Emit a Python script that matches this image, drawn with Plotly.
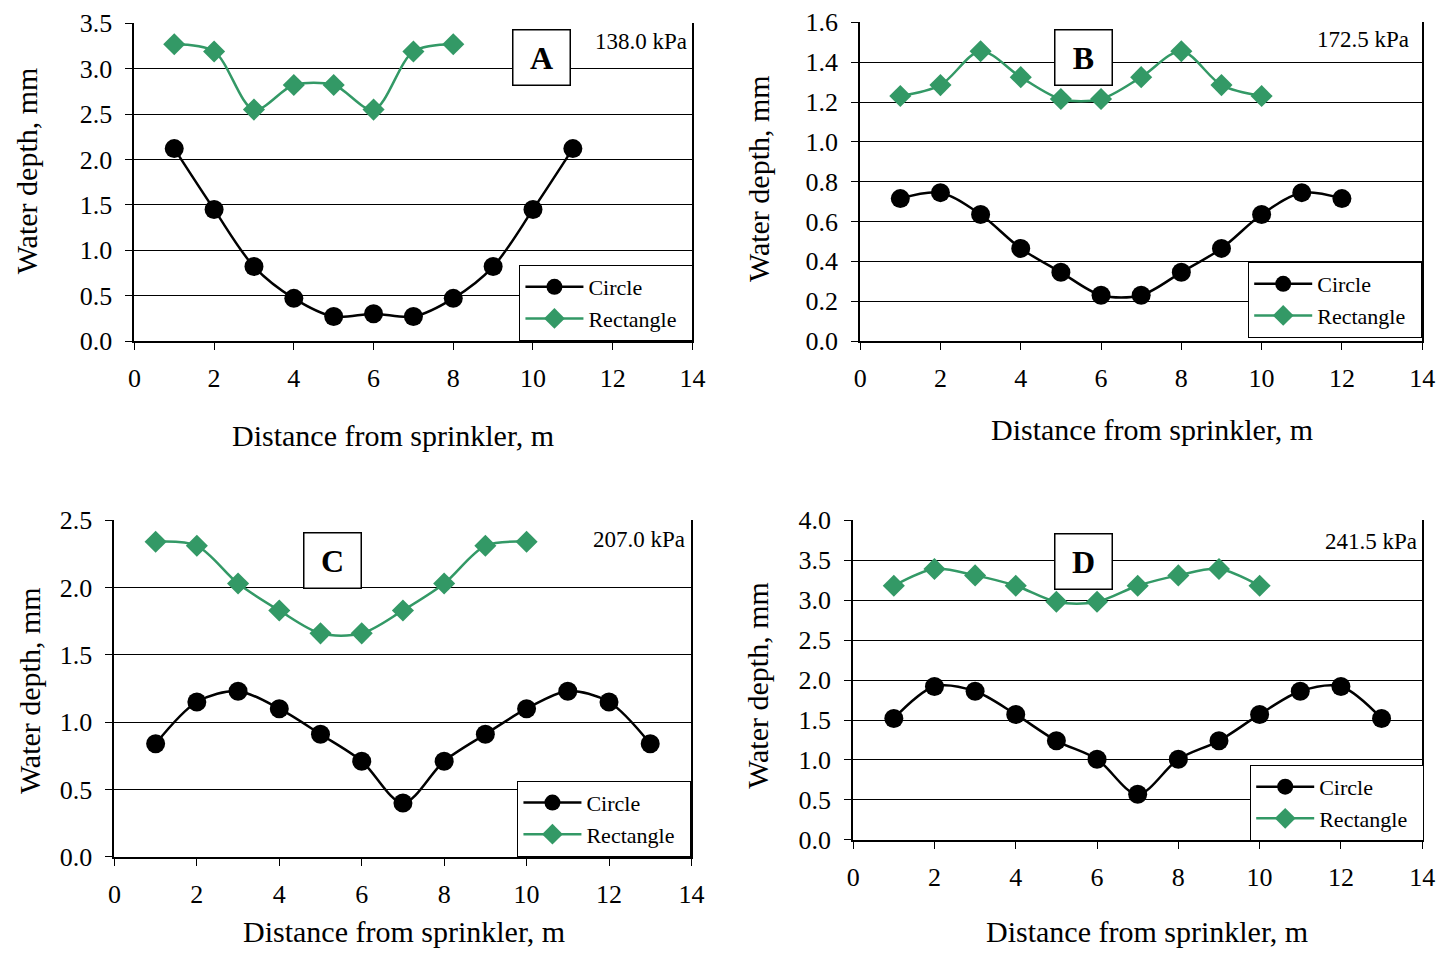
import plotly.graph_objects as go

W, H = 1442, 953

# ---------------- data ----------------
x_circle_A = [1, 2, 3, 4, 5, 6, 7, 8, 9, 10, 11]
circle_A = [2.12, 1.45, 0.82, 0.47, 0.27, 0.30, 0.27, 0.47, 0.82, 1.45, 2.12]
x_rect_A = [1, 2, 3, 4, 5, 6, 7, 8]
rect_A = [3.27, 3.19, 2.55, 2.82, 2.82, 2.55, 3.19, 3.27]

x_circle_B = [1, 2, 3, 4, 5, 6, 7, 8, 9, 10, 11, 12]
circle_B = [0.715, 0.745, 0.635, 0.465, 0.345, 0.23, 0.23, 0.345, 0.465, 0.635, 0.745, 0.715]
x_rect_B = [1, 2, 3, 4, 5, 6, 7, 8, 9, 10]
rect_B = [1.23, 1.285, 1.455, 1.325, 1.215, 1.215, 1.325, 1.455, 1.285, 1.23]

x_circle_C = [1, 2, 3, 4, 5, 6, 7, 8, 9, 10, 11, 12, 13]
circle_C = [0.84, 1.15, 1.23, 1.10, 0.91, 0.71, 0.40, 0.71, 0.91, 1.10, 1.23, 1.15, 0.84]
x_rect_C = [1, 2, 3, 4, 5, 6, 7, 8, 9, 10]
rect_C = [2.34, 2.31, 2.03, 1.83, 1.66, 1.66, 1.83, 2.03, 2.31, 2.34]

x_circle_D = [1, 2, 3, 4, 5, 6, 7, 8, 9, 10, 11, 12, 13]
circle_D = [1.52, 1.92, 1.86, 1.57, 1.24, 1.01, 0.57, 1.01, 1.24, 1.57, 1.86, 1.92, 1.52]
x_rect_D = [1, 2, 3, 4, 5, 6, 7, 8, 9, 10]
rect_D = [3.18, 3.39, 3.31, 3.18, 2.98, 2.98, 3.18, 3.31, 3.39, 3.18]

panel_letters = ["A", "B", "C", "D"]
pressures = ["138.0 kPa", "172.5 kPa", "207.0 kPa", "241.5 kPa"]
y_max = [3.5, 1.6, 2.5, 4.0]
y_step = [0.5, 0.2, 0.5, 0.5]
series_names = ["Circle", "Rectangle"]
x_title = "Distance from sprinkler, m"
y_title = "Water depth, mm"

data = [
    (x_circle_A, circle_A, x_rect_A, rect_A),
    (x_circle_B, circle_B, x_rect_B, rect_B),
    (x_circle_C, circle_C, x_rect_C, rect_C),
    (x_circle_D, circle_D, x_rect_D, rect_D),
]

# ---------------- layout geometry (target pixels) ----------------
areas = [(133, 692, 22, 341), (860, 1423, 21, 341), (113, 691, 521, 859), (853, 1423, 521, 842)]
letter_pos = [(541, 56), (1084, 56), (331, 561), (1084, 562)]
press_pos = [(689, 40), (1412, 38), (687, 540), (1420, 542)]
legend_pos = [(693, 341), (1423, 338), (691, 859), (1425, 843)]
xtitle_pos = [(392, 436), (1152, 430), (403, 934), (1147, 934)]
ytitle_pos = [(25, 170), (758, 178), (28, 692), (757, 687)]

FONT = "Liberation Serif"
GREEN = "#339966"
PAD = "\u00a0\u00a0"  # right padding inside the legend box

# empirical correction between layout pixels and photographed pixels
SX, OX = 0.9878, 5.4
SY, OY = 0.9737, 12.6

def px(x):
    return ((x - OX) / SX) / W

def py(y):
    return 1 - ((y - OY) / SY) / H

fig = go.Figure()
annotations = []
layout = dict(
    width=W, height=H, margin=dict(l=0, r=0, t=0, b=0),
    paper_bgcolor="white", plot_bgcolor="white",
    font=dict(family=FONT, color="black", size=22),
    annotations=annotations, showlegend=True,
)

for i in range(4):
    sfx = "" if i == 0 else str(i + 1)
    xa, ya = "x" + sfx, "y" + sfx
    lg = "legend" + sfx
    xc, yc, xr, yr = data[i]
    fig.add_trace(go.Scatter(
        x=xc, y=yc, name=series_names[0] + PAD, xaxis=xa, yaxis=ya, legend=lg,
        mode="lines+markers",
        line=dict(color="black", width=2.5, shape="spline", smoothing=0.9),
        marker=dict(symbol="circle", size=19, color="black"),
    ))
    fig.add_trace(go.Scatter(
        x=xr, y=yr, name=series_names[1] + PAD, xaxis=xa, yaxis=ya, legend=lg,
        mode="lines+markers",
        line=dict(color=GREEN, width=2.5, shape="spline", smoothing=0.9),
        marker=dict(symbol="diamond", size=17, color=GREEN),
    ))
    x0, x1, yt, yb = areas[i]
    layout["xaxis" + sfx] = dict(
        domain=[px(x0), px(x1)], anchor=ya, range=[0, 14], dtick=2, tick0=0,
        showgrid=False, zeroline=False, showline=True, linecolor="black", linewidth=2,
        ticks="outside", ticklen=7, tickcolor="black", tickwidth=1,
        tickfont=dict(size=26, family=FONT), ticklabelstandoff=6,
    )
    layout["yaxis" + sfx] = dict(
        domain=[py(yb), py(yt)], anchor=xa, range=[0, y_max[i]], dtick=y_step[i], tick0=0,
        tickformat=".1f",
        showgrid=True, gridcolor="black", gridwidth=1, zeroline=False,
        showline=True, linecolor="black", linewidth=2, mirror=True,
        ticks="outside", ticklen=7, tickcolor="black", tickwidth=1,
        tickfont=dict(size=26, family=FONT), ticklabelstandoff=8,
    )
    lx, lyb = legend_pos[i]
    layout[lg] = dict(
        x=px(lx), y=py(lyb), xanchor="right", yanchor="bottom",
        bgcolor="white", bordercolor="black", borderwidth=1,
        font=dict(size=22, family=FONT), itemsizing="trace", itemwidth=58,
        tracegroupgap=0,
    )
    cx, cy = letter_pos[i]
    annotations.append(dict(
        x=px(cx), y=py(cy), xref="paper", yref="paper", showarrow=False,
        xanchor="center", yanchor="middle",
        text="<b>" + panel_letters[i] + "</b>", font=dict(size=32, family=FONT),
        bordercolor="black", borderwidth=1.5, bgcolor="white", borderpad=0,
        width=56, height=54, align="center", valign="middle",
    ))
    rx, ry = press_pos[i]
    annotations.append(dict(
        x=px(rx), y=py(ry), xref="paper", yref="paper", showarrow=False,
        text=pressures[i], font=dict(size=23, family=FONT),
        xanchor="right", yanchor="middle", bgcolor="white",
    ))
    tx, ty = xtitle_pos[i]
    annotations.append(dict(
        x=px(tx), y=py(ty), xref="paper", yref="paper", showarrow=False,
        text=x_title, font=dict(size=30, family=FONT),
        xanchor="center", yanchor="middle",
    ))
    vx, vy = ytitle_pos[i]
    annotations.append(dict(
        x=px(vx), y=py(vy), xref="paper", yref="paper", showarrow=False,
        text=y_title, font=dict(size=30, family=FONT), textangle=-90,
        xanchor="center", yanchor="middle",
    ))

fig.update_layout(**layout)
fig.write_html("out.html")
